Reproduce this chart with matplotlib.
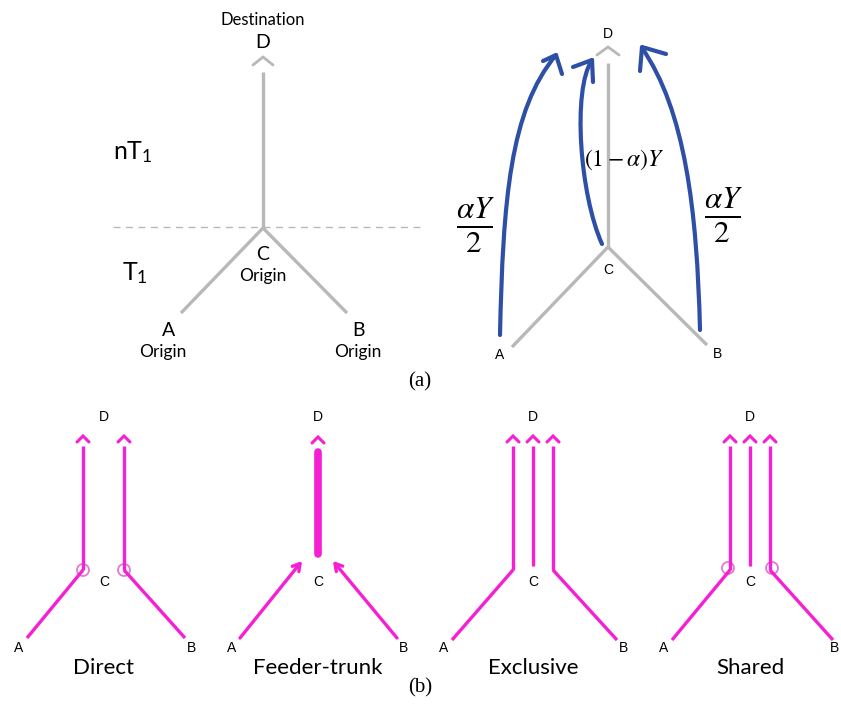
import matplotlib
matplotlib.use("Agg")
import matplotlib.pyplot as plt
from matplotlib.path import Path
from matplotlib.patches import PathPatch, Circle

plt.rcParams['mathtext.fontset'] = 'stix'

GRAY = '#b8b8b8'
BLUE = '#2d4fa6'
PINK = '#f51fd3'
RING = '#e27ad6'
SANS = 'Lato'
ARIAL = 'Liberation Sans'

# panel (a) node positions (pixels)
left_D = (263, 57)
left_C = (263, 228)
left_A = (181, 313)
left_B = (347, 313)
right_D = (608, 47)
right_C = (608, 247)
right_A = (512, 347)
right_B = (707, 345)

# blue flow curves: start, ctrl1, ctrl2, tip
flow_curves = [
    [(500, 335), (503, 200), (510, 110), (556, 55)],
    [(602, 244), (580, 195), (572, 90), (592, 60)],
    [(700, 330), (697, 210), (685, 110), (642, 48)],
]
flow_heads = [
    [(543, 61), (556, 55), (562, 74)],
    [(573, 67), (592, 60), (593, 82)],
    [(666, 54), (642, 47), (640, 71)],
]

# panel (b) schemes
scheme_names = ['Direct', 'Feeder-trunk', 'Exclusive', 'Shared']
scheme_cx = [104, 318, 533, 750]
scheme_A = [(27, 638), (240, 638), (452, 640), (672, 640)]
scheme_B = [(185, 638), (397, 638), (617, 640), (833, 640)]
top_y = 446
join_y = 570

fig = plt.figure(figsize=(8.41, 7.11), dpi=100)
ax = fig.add_axes([0, 0, 1, 1])
ax.set_xlim(0, 841)
ax.set_ylim(711, 0)
ax.axis('off')


def chevron(x, y, color, w=10, h=8, lw=2.2):
    ax.plot([x - w, x, x + w], [y + h, y, y + h], color=color, lw=lw,
            solid_capstyle='round', solid_joinstyle='miter')


def seg(p, q, color, lw=2.4):
    ax.plot([p[0], q[0]], [p[1], q[1]], color=color, lw=lw, solid_capstyle='butt')


# ---- (a) left ----
ax.plot([113, 420], [227, 227], color=GRAY, lw=1, ls=(0, (5, 4)))
seg((left_D[0], 72), left_C, GRAY, 2.4)
seg(left_C, left_A, GRAY, 2.4)
seg(left_C, left_B, GRAY, 2.4)
chevron(*left_D, GRAY, w=10, h=8, lw=2)
ax.text(263, 20, 'Destination', family=SANS, fontsize=12, ha='center', va='center')
ax.text(263, 43, 'D', family=SANS, fontsize=14, ha='center', va='center')
ax.text(113, 152, r'$\mathregular{nT_1}$', family=SANS, fontsize=18, ha='left', va='center')
ax.text(122, 273, r'$\mathregular{T_1}$', family=SANS, fontsize=18, ha='left', va='center')
ax.text(263, 254, 'C', family=SANS, fontsize=14, ha='center', va='center')
ax.text(263, 276, 'Origin', family=SANS, fontsize=12.5, ha='center', va='center')
ax.text(169, 331, 'A', family=SANS, fontsize=14, ha='center', va='center')
ax.text(163, 352, 'Origin', family=SANS, fontsize=12.5, ha='center', va='center')
ax.text(359, 331, 'B', family=SANS, fontsize=14, ha='center', va='center')
ax.text(358, 352, 'Origin', family=SANS, fontsize=12.5, ha='center', va='center')

# ---- (a) right ----
seg((right_D[0], 63), right_C, GRAY, 2.4)
seg(right_C, right_A, GRAY, 2.4)
seg(right_C, right_B, GRAY, 2.4)
chevron(*right_D, GRAY, w=11, h=8, lw=2)
ax.text(608, 34, 'D', family=ARIAL, fontsize=10, ha='center', va='center')
ax.text(608, 270, 'C', family=ARIAL, fontsize=10, ha='center', va='center')
ax.text(500, 355, 'A', family=ARIAL, fontsize=10, ha='center', va='center')
ax.text(718, 354, 'B', family=ARIAL, fontsize=10, ha='center', va='center')

for pts, head in zip(flow_curves, flow_heads):
    path = Path(pts, [Path.MOVETO, Path.CURVE4, Path.CURVE4, Path.CURVE4])
    ax.add_patch(PathPatch(path, fill=False, edgecolor=BLUE, lw=3, capstyle='round'))
    ax.plot([h[0] for h in head], [h[1] for h in head], color=BLUE, lw=3,
            solid_capstyle='round', solid_joinstyle='round')

ax.text(475, 225, r'$\frac{\alpha Y}{2}$', fontsize=32, ha='center', va='center')
ax.text(723, 215, r'$\frac{\alpha Y}{2}$', fontsize=32, ha='center', va='center')
ax.text(624, 160, r'$(\mathit{1}-\alpha)Y$', fontsize=17, ha='center', va='center')

ax.text(420, 382, '(a)', family='Liberation Serif', fontsize=15, ha='center', va='center')
ax.text(420, 688, '(b)', family='Liberation Serif', fontsize=15, ha='center', va='center')

# ---- (b) ----
for i, name in enumerate(scheme_names):
    cx = scheme_cx[i]
    A = scheme_A[i]
    B = scheme_B[i]
    ax.text(cx, 417, 'D', family=ARIAL, fontsize=10, ha='center', va='center')
    ax.text(cx, 582, 'C', family=ARIAL, fontsize=10, ha='center', va='center')
    ax.text(A[0] - 8, 648, 'A', family=ARIAL, fontsize=10, ha='center', va='center')
    ax.text(min(B[0] + 7, 835), 648, 'B', family=ARIAL, fontsize=10, ha='center', va='center')
    ax.text(cx, 668, name, family=SANS, fontsize=16, ha='center', va='center')

    if name == 'Direct':
        for lx, end in [(cx - 21, A), (cx + 20, B)]:
            chevron(lx, 436, PINK, w=6, h=6, lw=2.2)
            seg((lx, top_y), (lx, join_y), PINK)
            seg((lx, join_y), end, PINK)
            ax.add_patch(Circle((lx, join_y), 6, fill=False, edgecolor=RING, lw=1.3))
    elif name == 'Feeder-trunk':
        chevron(cx, 437, PINK, w=6, h=6, lw=2.2)
        ax.plot([cx, cx], [452, 554], color=PINK, lw=5.5, solid_capstyle='round')
        ax.annotate('', xy=(302, 561), xytext=A,
                    arrowprops=dict(arrowstyle='->,head_length=0.5,head_width=0.3',
                                    color=PINK, lw=2.4, shrinkA=0, shrinkB=0))
        ax.annotate('', xy=(333, 561), xytext=B,
                    arrowprops=dict(arrowstyle='->,head_length=0.5,head_width=0.3',
                                    color=PINK, lw=2.4, shrinkA=0, shrinkB=0))
    else:
        for lx in (cx - 20, cx, cx + 20):
            chevron(lx, 436, PINK, w=6, h=6, lw=2.2)
        seg((cx, top_y), (cx, join_y - 4), PINK)
        seg((cx - 20, top_y), (cx - 20, join_y), PINK)
        seg((cx + 20, top_y), (cx + 20, join_y), PINK)
        seg((cx - 20, join_y), A, PINK)
        seg((cx + 20, join_y), B, PINK)
        if name == 'Shared':
            ax.add_patch(Circle((cx - 22, join_y - 2), 6, fill=False, edgecolor=RING, lw=1.3))
            ax.add_patch(Circle((cx + 22, join_y - 2), 6, fill=False, edgecolor=RING, lw=1.3))

fig.savefig('out.png', dpi=100)
